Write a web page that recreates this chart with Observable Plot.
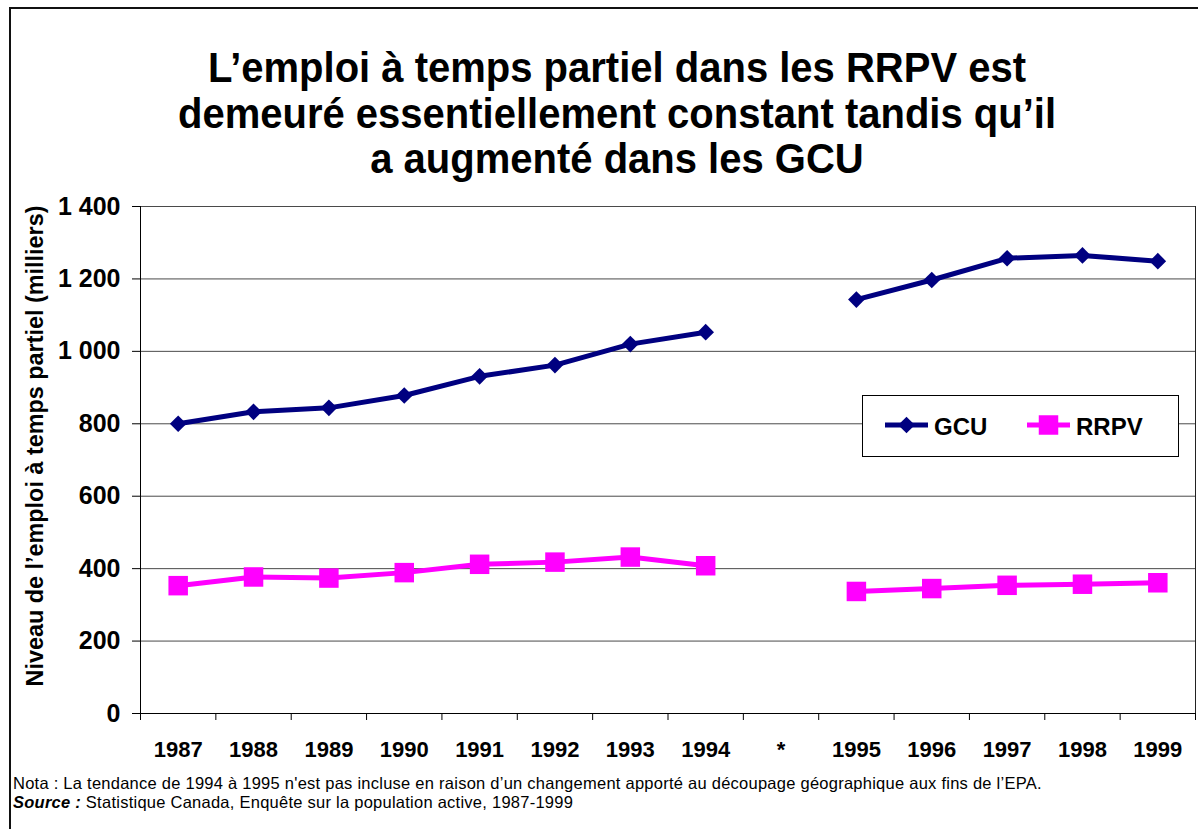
<!DOCTYPE html>
<html>
<head>
<meta charset="utf-8">
<script src="https://cdn.jsdelivr.net/npm/d3@7"></script>
<script src="https://cdn.jsdelivr.net/npm/@observablehq/plot@0.6"></script>
<style>
html, body { margin: 0; padding: 0; background: #fff; overflow: hidden; width: 1198px; height: 829px; }
body { position: relative; font-family: "Liberation Sans", Arial, sans-serif; color: #000; }
#frame { position: absolute; left: 9px; top: 7px; width: 1300px; height: 900px; border: 2px solid #111; box-sizing: border-box; }
#title { position: absolute; left: 0; top: 45px; width: 1234px; text-align: center; font-weight: bold; font-size: 40px; line-height: 43px; transform: scaleY(1.06); transform-origin: 50% 0; }
#chart { position: absolute; left: 0; top: 190px; }
#legend { position: absolute; left: 862px; top: 395px; width: 317px; height: 62px; box-sizing: border-box; border: 1.5px solid #000; background: #fff; }
#legend svg { position: absolute; left: 0; top: 0; }
#notes { position: absolute; left: 13px; top: 774px; font-size: 16.5px; line-height: 19px; letter-spacing: 0.25px; white-space: nowrap; }
</style>
</head>
<body>
<div id="frame"></div>
<div id="title">L’emploi à temps partiel dans les RRPV est<br>demeuré essentiellement constant tandis qu’il<br>a augmenté dans les GCU</div>
<div id="chart"></div>
<div id="legend"></div>
<div id="notes">
  <div>Nota : La tendance de 1994 à 1995 n'est pas incluse en raison d’un changement apporté au découpage géographique aux fins de l’EPA.</div>
  <div><b><i>Source :</i></b> Statistique Canada, Enquête sur la population active, 1987-1999</div>
</div>
<script>
// ---- Data ----
const categories = ["1987", "1988", "1989", "1990", "1991", "1992", "1993", "1994", "*", "1995", "1996", "1997", "1998", "1999"];
const gcu  = [800, 833, 844, 878, 931, 962, 1020, 1053, null, 1143, 1197, 1257, 1265, 1249];
const rrpv = [353, 377, 374, 389, 412, 418, 432, 408, null, 337, 345, 354, 357, 361];
const seriesNames = ["GCU", "RRPV"];
const seriesColors = ["#000080", "#FF00FF"];
const seriesSymbols = ["diamond2", "square"];
const yTicks = [0, 200, 400, 600, 800, 1000, 1200, 1400];
const yLabel = "Niveau de l’emploi à temps partiel (milliers)";

// ---- Build rows ----
const seriesValues = [gcu, rrpv];
const rows = [];
seriesNames.forEach((s, k) => {
  categories.forEach((c, i) => {
    const v = seriesValues[k][i];
    rows.push({i, cat: c, series: s, value: v == null ? NaN : v});
  });
});

const idx = d3.range(categories.length);
const bounds = d3.range(categories.length + 1).map(k => k - 0.5);
const fmt = d3.formatLocale({decimal: ",", thousands: " ", grouping: [3], currency: ["", ""]}).format(",");
const font = '"Liberation Sans", Arial, sans-serif';

const seriesMarks = seriesNames.flatMap((s, k) => {
  const d = rows.filter(r => r.series === s);
  return [
    Plot.line(d, {x: "i", y: "value", stroke: seriesColors[k], strokeWidth: 5}),
    Plot.dot(d, {x: "i", y: "value", symbol: () => seriesSymbols[k], fill: seriesColors[k], r: k === 0 ? 7.5 : 11})
  ];
});

const chart = Plot.plot({
  width: 1198,
  height: 580,
  marginLeft: 140,
  marginRight: 3,
  marginTop: 16,
  marginBottom: 57,
  style: {fontFamily: font, background: "transparent", color: "#000"},
  x: {type: "linear", domain: [-0.5, categories.length - 0.5]},
  y: {domain: [0, 1400]},
  marks: [
    Plot.ruleY(yTicks, {stroke: "#4a4a4a", strokeWidth: 1}),
    Plot.ruleX([categories.length - 0.5], {stroke: "#222", strokeWidth: 1}),
    Plot.ruleX([-0.5], {stroke: "#000", strokeWidth: 1}),
    Plot.ruleY([0], {stroke: "#000", strokeWidth: 1.2}),
    Plot.axisY({ticks: yTicks, tickSize: 8, tickPadding: 12, tickFormat: d => fmt(d), fontSize: 25, fontWeight: "bold", label: null}),
    Plot.axisX({ticks: bounds, tickSize: 7, tickFormat: () => "", label: null}),
    Plot.axisX({ticks: idx, tickSize: 0, tickPadding: 28, tickFormat: i => categories[i], fontSize: 22, fontWeight: "bold", label: null}),
    ...seriesMarks,
    Plot.text([yLabel], {frameAnchor: "left", rotate: -90, dx: -105, dy: -14, fontSize: 23.4, fontWeight: "bold", textAnchor: "middle"})
  ]
});
document.getElementById("chart").appendChild(chart);

// ---- Legend ----
const ns = "http://www.w3.org/2000/svg";
const lg = document.createElementNS(ns, "svg");
lg.setAttribute("width", 317);
lg.setAttribute("height", 62);
const entryX = [22, 164];
seriesNames.forEach((s, k) => {
  const x0 = entryX[k];
  const line = document.createElementNS(ns, "line");
  line.setAttribute("x1", x0); line.setAttribute("x2", x0 + 43);
  line.setAttribute("y1", 29); line.setAttribute("y2", 29);
  line.setAttribute("stroke", seriesColors[k]); line.setAttribute("stroke-width", 5);
  lg.appendChild(line);
  const sym = document.createElementNS(ns, "path");
  const size = k === 0 ? Math.PI * 7.5 * 7.5 : Math.PI * 11 * 11;
  sym.setAttribute("d", d3.symbol(k === 0 ? d3.symbolDiamond2 : d3.symbolSquare, size)());
  sym.setAttribute("transform", `translate(${x0 + 21.5},29)`);
  sym.setAttribute("fill", seriesColors[k]);
  lg.appendChild(sym);
  const t = document.createElementNS(ns, "text");
  t.setAttribute("x", x0 + 49); t.setAttribute("y", 39);
  t.setAttribute("font-size", 24); t.setAttribute("font-weight", "bold");
  t.setAttribute("font-family", font);
  t.textContent = s;
  lg.appendChild(t);
});
document.getElementById("legend").appendChild(lg);
</script>
</body>
</html>
